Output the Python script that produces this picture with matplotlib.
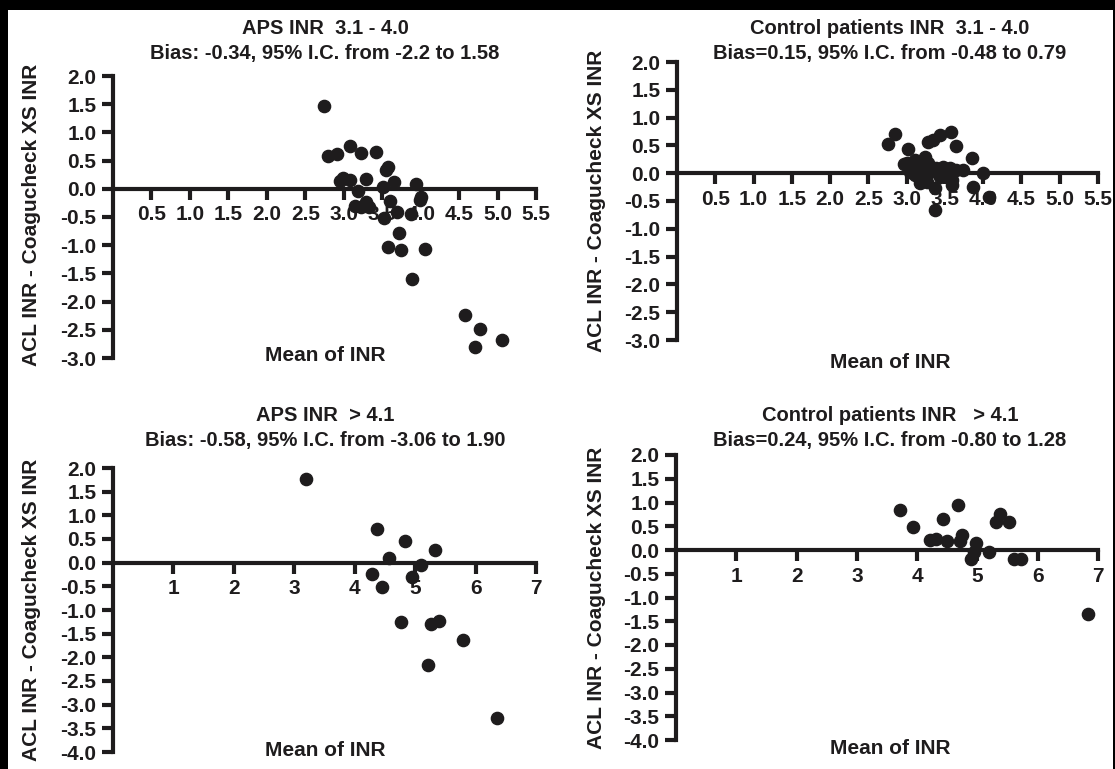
import matplotlib.pyplot as plt
from matplotlib.patches import Rectangle
from matplotlib.ticker import FormatStrFormatter

# APS patients, INR 3.1 - 4.0
aps_low_mean = [2.74, 2.79, 2.91, 3.08, 3.23, 3.42, 2.95, 2.99, 3.08, 3.29, 3.19, 3.15,
                3.23, 3.29, 3.33, 3.55, 3.58, 3.51, 3.60, 3.66, 3.53, 3.69, 3.87, 3.94,
                4.01, 3.99, 3.72, 3.58, 3.75, 4.06, 3.89, 4.58, 4.77, 4.71, 5.06]
aps_low_diff = [1.46, 0.58, 0.62, 0.76, 0.64, 0.65, 0.13, 0.19, 0.16, 0.18, -0.04, -0.30,
                -0.32, -0.24, -0.33, 0.34, 0.38, 0.03, -0.21, 0.12, -0.52, -0.41, -0.44, 0.09,
                -0.14, -0.20, -0.79, -1.03, -1.09, -1.07, -1.60, -2.24, -2.49, -2.80, -2.68]

# control patients, INR 3.1 - 4.0
ctrl_low_mean = [2.76, 2.85, 3.02, 2.96, 3.00, 3.11, 3.28, 3.34, 3.43, 3.58, 3.64, 3.86,
                 3.24, 3.28, 3.04, 3.15, 3.20, 3.11, 3.39, 3.48, 3.57, 3.65, 3.74, 4.00,
                 3.17, 3.27, 3.37, 3.37, 3.59, 3.59, 3.87, 4.07, 3.43, 3.52, 3.30, 3.55, 3.22]
ctrl_low_diff = [0.53, 0.71, 0.43, 0.17, 0.18, 0.24, 0.57, 0.60, 0.69, 0.74, 0.49, 0.27,
                 0.30, 0.18, 0.03, 0.12, -0.06, -0.03, 0.09, 0.12, 0.09, 0.06, 0.06, 0.01,
                 -0.18, -0.15, -0.27, -0.66, -0.12, -0.21, -0.25, -0.42, -0.06, -0.03, 0.03, 0.00, 0.08]

# APS patients, INR > 4.1
aps_high_mean = [3.19, 4.37, 4.83, 5.33, 4.56, 5.10, 4.29, 4.94, 4.45, 4.77, 5.26, 5.39,
                 5.79, 5.21, 6.35]
aps_high_diff = [1.76, 0.71, 0.45, 0.26, 0.10, -0.04, -0.24, -0.31, -0.52, -1.26, -1.29, -1.24,
                 -1.63, -2.17, -3.29]

# control patients, INR > 4.1
ctrl_high_mean = [3.72, 3.93, 4.43, 4.68, 4.21, 4.32, 4.50, 4.71, 4.75, 4.97, 4.94, 4.89,
                  5.19, 5.31, 5.38, 5.52, 5.60, 5.72, 6.84]
ctrl_high_diff = [0.85, 0.48, 0.66, 0.94, 0.21, 0.23, 0.20, 0.19, 0.31, 0.14, -0.04, -0.19,
                  -0.04, 0.60, 0.76, 0.60, -0.19, -0.19, -1.34]

titles = [
    "APS INR  3.1 - 4.0\nBias: -0.34, 95% I.C. from -2.2 to 1.58",
    "Control patients INR  3.1 - 4.0\nBias=0.15, 95% I.C. from -0.48 to 0.79",
    "APS INR  > 4.1\nBias: -0.58, 95% I.C. from -3.06 to 1.90",
    "Control patients INR   > 4.1\nBias=0.24, 95% I.C. from -0.80 to 1.28",
]
ylabel = "ACL INR - Coagucheck XS INR"
xlabel = "Mean of INR"

ink = "#1e1c1d"
plt.rcParams["font.family"] = ["Liberation Sans", "DejaVu Sans"]
plt.rcParams["font.weight"] = "bold"
plt.rcParams["text.color"] = ink

W, H = 1115, 769
fig = plt.figure(figsize=(W / 100, H / 100), dpi=100, facecolor="black")
fig.add_artist(Rectangle((8 / W, 0), (1113 - 8) / W, (H - 10) / H,
                         transform=fig.transFigure, facecolor="white",
                         edgecolor="none", zorder=-5))


def px(x, y):
    return x / W, 1 - y / H


# pixel boxes: left, right, top, bottom
panels = [
    dict(box=(113, 536, 76, 358), mean=aps_low_mean, diff=aps_low_diff,
         xlim=(0, 5.5), xt=[0.5 * i for i in range(1, 12)], xfmt="%.1f", ylim=(-3, 2),
         title=(325, 41), xlab=(325, 355), ylab=(32, 215)),
    dict(box=(677, 1098, 62, 340), mean=ctrl_low_mean, diff=ctrl_low_diff,
         xlim=(0, 5.5), xt=[0.5 * i for i in range(1, 12)], xfmt="%.1f", ylim=(-3, 2),
         title=(890, 41), xlab=(890, 362), ylab=(596, 201)),
    dict(box=(113, 536, 468, 752), mean=aps_high_mean, diff=aps_high_diff,
         xlim=(0, 7), xt=list(range(1, 8)), xfmt="%d", ylim=(-4, 2),
         title=(325, 428), xlab=(325, 750), ylab=(32, 610)),
    dict(box=(676, 1098, 455, 740), mean=ctrl_high_mean, diff=ctrl_high_diff,
         xlim=(0, 7), xt=list(range(1, 8)), xfmt="%d", ylim=(-4, 2),
         title=(890, 428), xlab=(890, 748), ylab=(596, 598)),
]

for p, title in zip(panels, titles):
    l, r, t, b = p["box"]
    ax = fig.add_axes([l / W, 1 - b / H, (r - l) / W, (b - t) / H])
    ax.set_facecolor("none")
    ax.plot(p["mean"], p["diff"], "o", ms=8.8, color=ink, mec=ink,
            clip_on=False, zorder=5)
    ax.set_xlim(*p["xlim"])
    ax.set_ylim(*p["ylim"])
    ax.set_xticks(p["xt"])
    ax.set_yticks([p["ylim"][0] + 0.5 * i for i in range(int((p["ylim"][1] - p["ylim"][0]) * 2) + 1)])
    ax.xaxis.set_major_formatter(FormatStrFormatter(p["xfmt"]))
    ax.yaxis.set_major_formatter(FormatStrFormatter("%.1f"))
    for side in ("top", "right"):
        ax.spines[side].set_visible(False)
    ax.spines["bottom"].set_position(("data", 0))
    for side in ("left", "bottom"):
        ax.spines[side].set_linewidth(3)
        ax.spines[side].set_color(ink)
    ax.tick_params(direction="out", length=8, width=3, color=ink,
                   labelsize=15, labelcolor=ink, pad=4)

    fig.text(*px(*p["title"]), title, ha="center", va="center",
             fontsize=14.5, fontweight="bold", linespacing=1.4)
    fig.text(*px(*p["xlab"]), xlabel, ha="center", va="center",
             fontsize=15, fontweight="bold")
    fig.text(*px(*p["ylab"]), ylabel, ha="center", va="center", rotation=90,
             fontsize=15, fontweight="bold")

fig.savefig("out.png", dpi=100, facecolor=fig.get_facecolor())
